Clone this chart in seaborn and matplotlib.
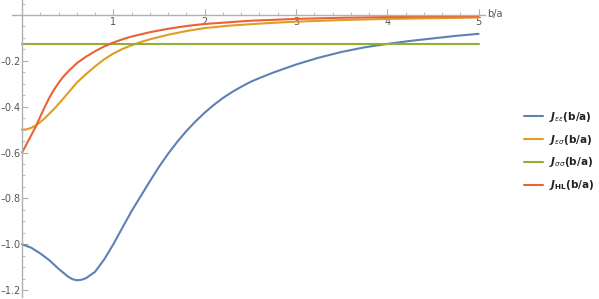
import numpy as np
import pandas as pd
import matplotlib
matplotlib.use("Agg")
import matplotlib.pyplot as plt
import seaborn as sns
from matplotlib.ticker import MultipleLocator

sns.set_style("white")
plt.rcParams['font.family'] = ['DejaVu Sans']

# Data
x_ee = [0, 0.1, 0.2, 0.3, 0.4, 0.5, 0.55, 0.6, 0.65, 0.7, 0.8, 0.9, 1.0, 1.1, 1.2,
        1.3, 1.4, 1.5, 1.6, 1.7, 1.8, 1.9, 2.0, 2.1, 2.2, 2.3, 2.4, 2.5, 2.6, 2.7,
        2.8, 2.9, 3.0, 3.25, 3.5, 3.75, 4.0, 4.25, 4.5, 4.75, 5.0]
J_ee = [-1.0, -1.015, -1.04, -1.07, -1.107, -1.14, -1.152, -1.157, -1.155, -1.148,
        -1.12, -1.066, -1.0, -0.927, -0.855, -0.79, -0.725, -0.662, -0.605, -0.553,
        -0.506, -0.464, -0.426, -0.392, -0.362, -0.336, -0.313, -0.292, -0.275,
        -0.259, -0.244, -0.23, -0.216, -0.186, -0.161, -0.141, -0.126, -0.113,
        -0.102, -0.091, -0.082]

x_es = [0, 0.05, 0.1, 0.15, 0.2, 0.25, 0.3, 0.35, 0.4, 0.45, 0.5, 0.6, 0.7, 0.8,
        0.9, 1.0, 1.1, 1.2, 1.3, 1.4, 1.6, 1.8, 2.0, 2.25, 2.5, 2.75, 3.0, 3.5,
        4.0, 4.5, 5.0]
J_es = [-0.5, -0.499, -0.492, -0.482, -0.467, -0.45, -0.43, -0.41, -0.388, -0.365,
        -0.342, -0.295, -0.258, -0.224, -0.193, -0.168, -0.148, -0.132, -0.118,
        -0.106, -0.086, -0.07, -0.057, -0.047, -0.04, -0.034, -0.029, -0.022,
        -0.017, -0.014, -0.011]

x_ss = [0, 5]
J_ss = [-0.125, -0.125]

x_hl = [0, 0.05, 0.1, 0.15, 0.2, 0.25, 0.3, 0.35, 0.4, 0.45, 0.5, 0.6, 0.7, 0.8,
        0.9, 1.0, 1.1, 1.2, 1.4, 1.6, 1.8, 2.0, 2.5, 3.0, 3.5, 4.0, 4.5, 5.0]
J_hl = [-0.6, -0.563, -0.525, -0.487, -0.443, -0.4, -0.36, -0.326, -0.296, -0.27,
        -0.248, -0.21, -0.182, -0.158, -0.137, -0.12, -0.106, -0.094, -0.075,
        -0.06, -0.048, -0.039, -0.025, -0.017, -0.012, -0.009, -0.007, -0.005]

labels = [r'$\mathbfit{J}_{\varepsilon\varepsilon}$(b/a)',
          r'$\mathbfit{J}_{\varepsilon\sigma}$(b/a)',
          r'$\mathbfit{J}_{\sigma\sigma}$(b/a)',
          r'$\mathbfit{J}_{\mathbf{HL}}$(b/a)']
colors = ['#5E81B5', '#E19C24', '#8FB032', '#EB6235']
xticks = [1, 2, 3, 4, 5]
yticks = [-1.2, -1.0, -0.8, -0.6, -0.4, -0.2]

fig = plt.figure(figsize=(5.99, 2.99), dpi=100)
ax = fig.add_axes([12/599, 2/299, 473/599, 297/299])

series = [(x_ee, J_ee), (x_es, J_es), (x_ss, J_ss), (x_hl, J_hl)]
for (xs, ys), lab, c in zip(series, labels, colors):
    sns.lineplot(x=xs, y=ys, ax=ax, color=c, lw=1.5, label=lab, sort=False)

ax.set_xlim(-0.11, 5.07)
ax.set_ylim(-1.23, 0.0655)
for s in ['top', 'right']:
    ax.spines[s].set_visible(False)
ax.spines['left'].set_position(('data', 0))
ax.spines['bottom'].set_position(('data', 0))
for s in ['left', 'bottom']:
    ax.spines[s].set_color('#b0b0b0')
    ax.spines[s].set_linewidth(1.0)

ax.set_xticks(xticks)
ax.set_xticklabels([str(t) for t in xticks])
ax.set_yticks(yticks)
ax.set_yticklabels([f'\u2013{abs(t):.1f}' for t in yticks])
ax.xaxis.set_minor_locator(MultipleLocator(0.2))
ax.yaxis.set_minor_locator(MultipleLocator(0.05))
ax.tick_params(which='major', direction='in', length=4, width=0.8, color='#b0b0b0',
               labelsize=7, labelcolor='#555555', pad=1.5)
ax.tick_params(which='minor', direction='in', length=2.2, width=0.6, color='#b0b0b0')
ax.tick_params(axis='x', which='both', bottom=True)
ax.tick_params(axis='y', which='both', left=True, pad=1)

fig.text(487/599, 1 - 14/299, 'b/a', fontsize=7, color='#555555', va='center', ha='left')

leg = ax.legend(loc='center left', bbox_to_anchor=(515/599, 0.495),
                bbox_transform=fig.transFigure, frameon=False, fontsize=7.5,
                handlelength=1.8, labelspacing=0.85, handletextpad=0.6)
for t in leg.get_texts():
    t.set_fontweight('bold')
    t.set_color('#222222')

fig.savefig('out.png', dpi=100)
